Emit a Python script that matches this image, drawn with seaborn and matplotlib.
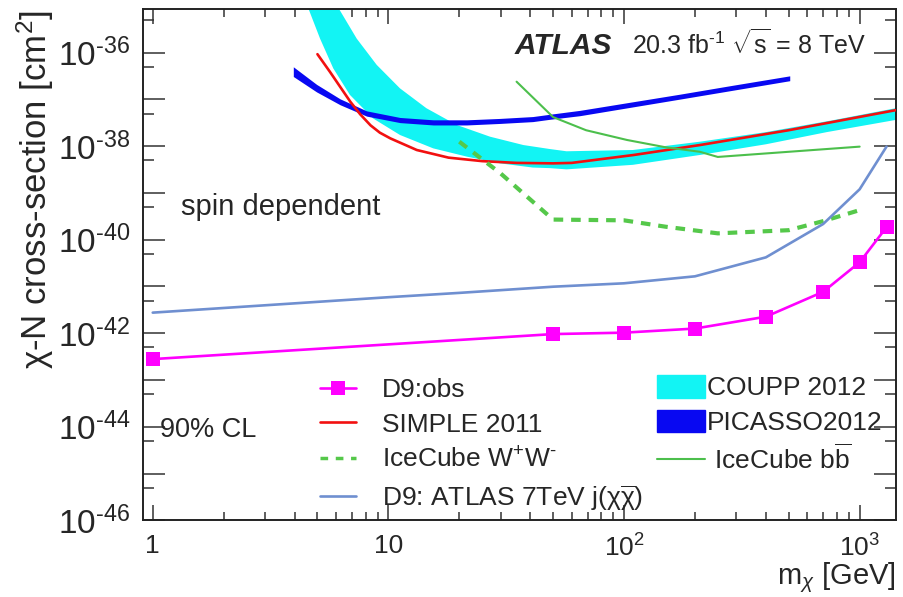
import numpy as np
import seaborn as sns
import matplotlib.pyplot as plt
from matplotlib.lines import Line2D
from matplotlib.patches import Patch
from matplotlib.ticker import FixedLocator, FixedFormatter

# values: dark matter mass [GeV], cross-section [cm^2]
d9_obs_m = [1, 50, 100, 200, 400, 700, 1000, 1300]
d9_obs_xs = [2.8e-43, 9.6e-43, 1.03e-42, 1.26e-42, 2.26e-42, 7.7e-42, 3.3e-41, 1.85e-40]

d9_7tev_m = [1, 10, 20, 50, 100, 200, 400, 700, 1000, 1300]
d9_7tev_xs = [2.76e-42, 5.9e-42, 7.3e-42, 9.9e-42, 1.17e-41, 1.65e-41, 4.2e-41, 2.17e-40, 1.2e-39, 9.8e-39]

simple_m = [5.0, 5.65, 6.24, 6.9, 7.6, 8.4, 9.2, 10.2, 13.2, 18, 25, 35, 50, 60, 110, 210, 500, 1420]
simple_xs = [9.3e-37, 3.9e-37, 1.87e-37, 8.9e-38, 4.8e-38, 2.8e-38, 1.95e-38, 1.47e-38, 8.3e-39,
             5.7e-39, 4.8e-39, 4.4e-39, 4.3e-39, 4.4e-39, 6.5e-39, 1.06e-38, 2.2e-38, 5.9e-38]

icecube_ww_m = [20, 30, 50, 100, 150, 250, 500, 700, 1000]
icecube_ww_xs = [1.25e-38, 2.6e-39, 2.7e-40, 2.6e-40, 1.9e-40, 1.37e-40, 1.6e-40, 2.5e-40, 4.3e-40]

icecube_bb_m = [35, 50, 69, 103, 150, 210, 250, 1000]
icecube_bb_xs = [2.4e-37, 4.2e-38, 2.2e-38, 1.36e-38, 9.5e-39, 7.6e-39, 5.9e-39, 9.8e-39]

# COUPP 2012 band: lower and upper edge
coupp_lo_m = [4.5, 5.13, 5.84, 6.87, 8.6, 11.2, 15.5, 21.5, 29.8, 41, 48.5, 57, 109, 210, 400, 724, 1422]
coupp_lo_xs = [1.1e-35, 2.0e-36, 4.6e-37, 1.25e-37, 3.95e-38, 1.74e-38, 9e-39, 6e-39, 4.3e-39,
               3.5e-39, 3.4e-39, 3.2e-39, 4e-39, 6.5e-39, 1.1e-38, 2.0e-38, 3.65e-38]
coupp_hi_m = [6.0, 7.34, 8.92, 11.2, 14.5, 19.5, 27, 37.4, 48.5, 57, 109, 210, 400, 770, 1422]
coupp_hi_xs = [1.1e-35, 2.0e-36, 5.5e-37, 1.73e-37, 6.5e-38, 2.85e-38, 1.6e-38, 1.06e-38, 8.7e-39,
               7.8e-39, 8.3e-39, 1.25e-38, 2.0e-38, 3.6e-38, 6.5e-38]

# PICASSO 2012 band
picasso_m = [3.95, 4.96, 6.24, 8.09, 11.2, 15.5, 21.5, 29.7, 41, 48.5, 65, 173, 282, 505]
picasso_lo = [3.1e-37, 1.45e-37, 7.7e-38, 4.4e-38, 3.2e-38, 2.85e-38, 2.85e-38, 3.07e-38,
              3.36e-38, 3.77e-38, 4.5e-38, 1.02e-37, 1.54e-37, 2.52e-37]
picasso_hi = [5.0e-37, 2.1e-37, 1.03e-37, 5.7e-38, 4.12e-38, 3.67e-38, 3.67e-38, 3.93e-38,
              4.31e-38, 4.83e-38, 5.85e-38, 1.3e-37, 1.97e-37, 3.2e-37]

xtick_vals = [1, 10, 100, 1000]
xtick_labels = ['1', '10', '$10^{2}$', '$10^{3}$']
ytick_exps = list(range(-46, -35))

HY = '\u2010'  # short hyphen, ROOT style exponent sign

# colours
c_obs = '#ff00ff'
c_simple = '#f21010'
c_ww = '#55c84a'
c_7tev = '#6f8fd0'
c_bb = '#4cbf4c'
c_coupp = '#12f4f4'
c_picasso = '#0808f2'

sns.set_style('ticks')
plt.rcParams['font.family'] = ['Liberation Sans', 'DejaVu Sans']
plt.rcParams['mathtext.fontset'] = 'custom'
plt.rcParams['mathtext.rm'] = 'Liberation Sans'
plt.rcParams['mathtext.it'] = 'Liberation Sans:italic'
plt.rcParams['mathtext.bf'] = 'Liberation Sans:bold'

fig = plt.figure(figsize=(9.04, 5.97), dpi=100)
ax = fig.add_axes([0.1579, 0.1285, 0.8329, 0.8564])
ax.set_xscale('log')
ax.set_yscale('log')

# bands
ax.fill(np.r_[coupp_lo_m, coupp_hi_m[::-1]], np.r_[coupp_lo_xs, coupp_hi_xs[::-1]],
        color=c_coupp, lw=0, zorder=1)
ax.fill_between(picasso_m, picasso_lo, picasso_hi, color=c_picasso, lw=0, zorder=2)

# limit curves
sns.lineplot(x=simple_m, y=simple_xs, color=c_simple, lw=1.9, ax=ax, zorder=3)
sns.lineplot(x=icecube_ww_m, y=icecube_ww_xs, color=c_ww, lw=3.0, linestyle=(0, (2.3, 1.9)),
             ax=ax, zorder=3)
sns.lineplot(x=icecube_bb_m, y=icecube_bb_xs, color=c_bb, lw=1.5, ax=ax, zorder=4)
sns.lineplot(x=d9_7tev_m, y=d9_7tev_xs, color=c_7tev, lw=1.9, ax=ax, zorder=4)
sns.lineplot(x=d9_obs_m, y=d9_obs_xs, color=c_obs, lw=1.9, marker='s', markersize=10,
             markeredgewidth=0, ax=ax, zorder=5)

ax.set_xlim(0.907, 1422)
ax.set_ylim(1e-46, 8.6e-36)

# ROOT-like ticks
ax.xaxis.set_major_locator(FixedLocator(xtick_vals))
ax.xaxis.set_major_formatter(FixedFormatter(xtick_labels))
ax.xaxis.set_minor_locator(FixedLocator([k * 10.0 ** d for d in range(0, 4) for k in range(2, 10)]))
ax.yaxis.set_major_locator(FixedLocator([10.0 ** e for e in ytick_exps]))
ax.yaxis.set_major_formatter(FixedFormatter(
    ['$10^{%s%d}$' % (HY, -e) if e % 2 == 0 else '' for e in ytick_exps]))
ax.yaxis.set_minor_locator(FixedLocator([5 * 10.0 ** e for e in ytick_exps]))
ax.tick_params(which='both', direction='in', top=True, right=True, width=1.1, color='#333333')
ax.tick_params(axis='x', which='major', length=11, labelsize=19, pad=10)
ax.tick_params(axis='x', which='minor', length=6)
ax.tick_params(axis='y', which='major', length=15.5, labelsize=24, pad=9)
ax.tick_params(axis='y', which='minor', length=8)
for sp in ax.spines.values():
    sp.set_linewidth(1.4)
    sp.set_color('#222222')

ax.set_xlabel(r'm$_{\chi}$ [GeV]', fontsize=21, loc='right')
ax.xaxis.set_label_coords(1.0, -0.078)
ax.set_ylabel(r'$\mathrm{\chi}$-N cross-section [cm$^{2}$]', fontsize=25, loc='top')
ax.yaxis.set_label_coords(-0.115, 0.998)

# annotations
fig.text(515 / 904, 1 - 54 / 597, 'ATLAS', fontsize=21.5, fontweight='bold', fontstyle='italic',
         va='baseline')
fig.text(632 / 904, 1 - 54 / 597, r'20.3 fb$^{%s1}$ $\sqrt{\mathrm{s}}$ = 8 TeV' % HY,
         fontsize=18, va='baseline')
fig.text(181 / 904, 1 - 215 / 597, 'spin dependent', fontsize=21, va='baseline')
fig.text(160 / 904, 1 - 437 / 597, '90% CL', fontsize=19.5, va='baseline')

# legends
left_handles = [
    Line2D([], [], color=c_obs, lw=1.9, marker='s', markersize=10, markeredgewidth=0),
    Line2D([], [], color=c_simple, lw=1.9),
    Line2D([], [], color=c_ww, lw=2.5, linestyle=(0, (2.2, 2.2))),
    Line2D([], [], color=c_7tev, lw=1.9),
]
left_labels = ['D9:obs', 'SIMPLE 2011', r'IceCube W$^{+}$W$^{%s}$' % HY,
               r'D9: ATLAS 7TeV j($\mathrm{\chi}\overline{\mathrm{\chi}}$)']
leg1 = ax.legend(left_handles, left_labels, loc='upper left', frameon=False, fontsize=19,
                 bbox_to_anchor=(320 / 904, 1 - 378 / 597), bbox_transform=fig.transFigure,
                 borderpad=0, borderaxespad=0, labelspacing=0.4, handlelength=1.35,
                 handletextpad=1.0)
ax.add_artist(leg1)

right_handles = [Patch(color=c_coupp), Patch(color=c_picasso), Line2D([], [], color=c_bb, lw=1.5)]
right_labels = ['COUPP 2012', 'PICASSO2012', r' IceCube b$\overline{\mathrm{b}}$']
ax.legend(right_handles, right_labels, loc='upper left', frameon=False, fontsize=19,
          bbox_to_anchor=(657 / 904, 1 - 375 / 597), bbox_transform=fig.transFigure,
          borderpad=0, borderaxespad=0, labelspacing=0.35, handlelength=1.8, handleheight=0.95,
          handletextpad=0.1)

fig.savefig('out.png', dpi=100)
